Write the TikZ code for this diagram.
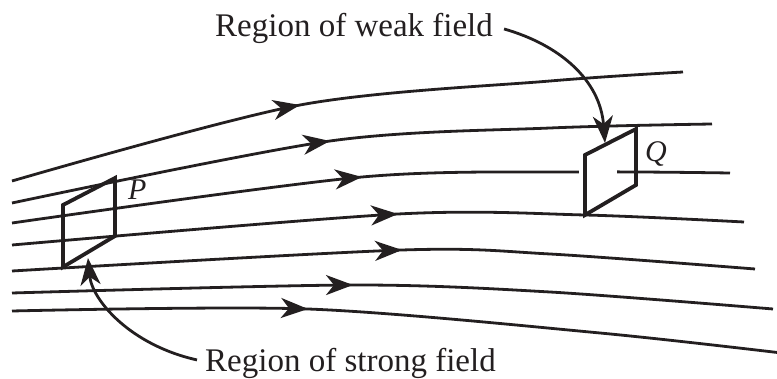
\documentclass[tikz,border=0pt]{standalone}
\usepackage{fontspec}
\setmainfont{Liberation Serif}
\usetikzlibrary{arrows.meta}
\definecolor{ink}{RGB}{35,31,32}
\tikzset{
  fieldtip/.tip={Stealth[length=27pt,width=20pt,inset=8pt]},
  fieldline/.style={line width=2.8pt,ink},
  plate/.style={line width=3.8pt,ink,line join=miter},
  pointer/.style={line width=2.8pt,ink,-{fieldtip}},
  caption/.style={font=\fontsize{33}{40}\selectfont,text=ink,inner sep=0pt,anchor=base west},
  tag/.style={font=\fontsize{30}{36}\selectfont\itshape,text=ink,inner sep=0pt,anchor=base west},
}
\begin{document}
\begin{tikzpicture}[x=1pt,y=-1pt]
  \useasboundingbox (0,0) rectangle (777,379);
  % field lines, top to bottom
  \draw[fieldline] plot[smooth] coordinates {(12,181) (300,105) (550,81) (683,72)};
  \draw[fieldline] plot[smooth] coordinates {(12,203) (330,141) (550,128) (712,124)};
  \draw[fieldline] plot[smooth] coordinates {(12,223) (362,177) (580,172) (730,173)};
  \draw[fieldline] plot[smooth] coordinates {(12,245) (398,214) (585,215) (744,222)};
  \draw[fieldline] plot[smooth] coordinates {(12,271) (402,250) (550,254) (755,269)};
  \draw[fieldline] plot[smooth] coordinates {(12,293) (353,285) (550,292) (773,309)};
  \draw[fieldline] plot[smooth] coordinates {(12,311) (308,309) (600,333) (790,354)};
  % arrow heads: tip x / tip y / rise over 10pt
  \foreach \tx/\ty/\dy in {300/105/1.86, 330/141/1.39, 362/177/0.9, 398/214/0.52,
                           402/250/0.32, 353/285/0.02, 308/309/-0.37}
    \draw[fieldline,-{fieldtip}] (\tx-10,\ty+\dy) -- (\tx,\ty);
  % the two surfaces
  \draw[plate] (63,205) -- (115,178) -- (115,236) -- (63,267) -- cycle;
  \fill[white] (579,166) rectangle (617,178);
  \draw[plate] (585,155) -- (636,129) -- (636,185) -- (585,215) -- cycle;
  \node[tag] (p) at (128,200) {P};
  \node[tag] (q) at (645,162) {Q};
  % labels and pointers
  \node[caption] (weak) at (215,37) {Region of weak field};
  \node[caption] (strong) at (205,372) {Region of strong field};
  \coordinate (qtip) at (605,143);
  \coordinate (ptip) at (88,258);
  \draw[pointer] ([xshift=11pt]weak.east) .. controls (560,45) and (600,80) .. (qtip);
  \draw[pointer] ([xshift=-8pt,yshift=4pt]strong.west) .. controls (130,345) and (92,300) .. (ptip);
\end{tikzpicture}
\end{document}
